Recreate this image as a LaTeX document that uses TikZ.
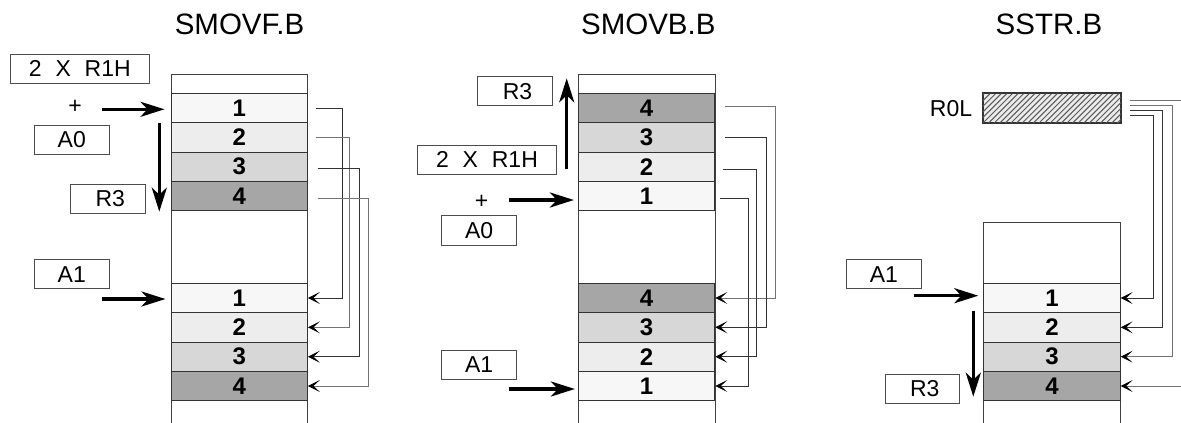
\documentclass[tikz,border=0pt]{standalone}
\usepackage{fontspec}
\setmainfont{Liberation Sans}
\usetikzlibrary{arrows.meta,calc}
\definecolor{cA}{HTML}{F7F7F7}
\definecolor{cB}{HTML}{EDEDED}
\definecolor{cC}{HTML}{D7D7D7}
\definecolor{cD}{HTML}{A6A6A6}
\begin{document}
\begin{tikzpicture}[x=1pt,y=-1pt,
  cell/.style={draw=black!80,line width=0.9pt,minimum width=136.5pt,minimum height=29.3pt,inner sep=0pt,font=\fontsize{24}{24}\selectfont\bfseries},
  lbl/.style={draw=black!70,line width=0.9pt,minimum height=29.3pt,inner sep=0pt,font=\fontsize{23}{23}\selectfont},
  ttl/.style={font=\fontsize{29.5}{30}\selectfont},
  colline/.style={draw=black!75,line width=1pt},
  conn/.style={draw=black!80,line width=0.8pt,-{Stealth[length=12pt,width=12pt,inset=6.5pt,color=black]}},
  big/.style={line width=3.5pt,-{Stealth[length=24pt,width=15pt,inset=7pt]}}]
\useasboundingbox (0,0) rectangle (1181,423);
\fill[white] (0,0) rectangle (1181,423);

% ---------------- Panel 1: SMOVF.B ----------------
\node[ttl] (t1) at (239.5,24) {SMOVF.B};
\draw[colline] (171.3,430) -- (171.3,74) -- (307,74) -- (307,430);
\node[cell,fill=cA] (a1) at (239.2,108) {1};
\node[cell,fill=cB] (a2) at (239.2,137.3) {2};
\node[cell,fill=cC] (a3) at (239.2,166.7) {3};
\node[cell,fill=cD] (a4) at (239.2,196) {4};
\node[cell,fill=cA] (b1) at (239.2,298) {1};
\node[cell,fill=cB] (b2) at (239.2,327.3) {2};
\node[cell,fill=cC] (b3) at (239.2,356.7) {3};
\node[cell,fill=cD] (b4) at (239.2,386) {4};
\node[lbl,minimum width=138.3pt] (p1r1h) at (79.8,68.6) {2\hspace{0.6em}X\hspace{0.6em}R1H};
\node[font=\fontsize{23}{23}\selectfont] (p1plus) at (75,107) {+};
\node[lbl,minimum width=74.3pt] (p1a0) at (71.8,139.6) {A0};
\node[lbl,minimum width=74.3pt] (p1r3) at (107.8,198.6) {\hspace{5pt}R3};
\node[lbl,minimum width=74.3pt] (p1a1) at (71.8,274.1) {A1};
\coordinate (p1s) at (102,109.3);
\coordinate (p1t) at (159.3,122.7);
\coordinate (p1u) at (159.3,211.7);
\coordinate (p1q) at (102,299);
\draw[big] (p1s) -- ([xshift=-6pt]a1.west |- p1s);
\draw[big] (p1t) -- (p1u);
\draw[big] (p1q) -- ([xshift=-5pt]b1.west |- p1q);
\draw[conn] ($(a1.east)+(8,0)$) -- ++(26.7,0) |- (b1.east);
\draw[conn,draw=black!55] ($(a2.east)+(8,0)$) -- ++(33.3,0) |- (b2.east);
\draw[conn] ($(a3.east)+(9.7,1.5)$) -- ++(41.6,0) |- (b3.east);
\draw[conn,draw=black!55] ($(a4.east)+(9.7,2.3)$) -- ++(51,0) |- (b4.east);

% ---------------- Panel 2: SMOVB.B ----------------
\node[ttl] (t2) at (648.3,24) {SMOVB.B};
\draw[colline] (578.3,430) -- (578.3,74) -- (715,74) -- (715,430);
\node[cell,fill=cD] (c4) at (646.6,108) {4};
\node[cell,fill=cC] (c3) at (646.6,137.3) {3};
\node[cell,fill=cB] (c2) at (646.6,166.7) {2};
\node[cell,fill=cA] (c1) at (646.6,196) {1};
\node[cell,fill=cD] (d4) at (646.6,298) {4};
\node[cell,fill=cC] (d3) at (646.6,327.3) {3};
\node[cell,fill=cB] (d2) at (646.6,356.7) {2};
\node[cell,fill=cA] (d1) at (646.6,386) {1};
\node[lbl,minimum width=74.6pt] (p2r3) at (515,91.2) {\hspace{5pt}R3};
\node[lbl,minimum width=139.4pt] (p2r1h) at (487,159.6) {2\hspace{0.6em}X\hspace{0.6em}R1H};
\node[font=\fontsize{23}{23}\selectfont] (p2plus) at (481.7,202) {+};
\node[lbl,minimum width=75pt] (p2a0) at (479.2,230.3) {A0};
\node[lbl,minimum width=75pt] (p2a1) at (479.2,364.6) {A1};
\coordinate (p2s) at (509.3,200);
\coordinate (p2t) at (566.7,169.3);
\coordinate (p2u) at (566.7,78.3);
\coordinate (p2q) at (509.3,389);
\draw[big] (p2s) -- ([xshift=-4pt]c1.west |- p2s);
\draw[big] (p2t) -- (p2u);
\draw[big] (p2q) -- ([xshift=-3pt]d1.west |- p2q);
\draw[conn,draw=black!55] ($(c4.east)+(10,-2)$) -- ++(50,0) |- (d4.east);
\draw[conn] ($(c3.east)+(10,0.4)$) -- ++(40.7,0) |- (d3.east);
\draw[conn] ($(c2.east)+(7.3,2.3)$) -- ++(33.7,0) |- (d2.east);
\draw[conn] ($(c1.east)+(5,2.3)$) -- ++(28.3,0) |- (d1.east);

% ---------------- Panel 3: SSTR.B ----------------
\node[ttl] (t3) at (1049,24) {SSTR.B};
\node[font=\fontsize{23}{23}\selectfont] (r0lt) at (951,109) {R0L};
\node[draw=black!80,line width=0.9pt,minimum width=137.4pt,minimum height=29.4pt,inner sep=0pt,fill=black!8] (r0l) at (1052,108) {};
\begin{scope}
\clip (r0l.south west) rectangle (r0l.north east);
\foreach \k in {-6,...,30} {
  \draw[black!65,line width=1pt] ($(r0l.south west)+(\k*5.6,0)$) -- ++(29.4,-29.4);
}
\end{scope}
\draw[black!80,line width=0.9pt] (r0l.south west) rectangle (r0l.north east);
\draw[colline] (983.3,430) -- (983.3,222.7) -- (1120.7,222.7) -- (1120.7,430);
\node[cell,fill=cA] (e1) at (1052,298) {1};
\node[cell,fill=cB] (e2) at (1052,327.3) {2};
\node[cell,fill=cC] (e3) at (1052,356.7) {3};
\node[cell,fill=cD] (e4) at (1052,386) {4};
\node[lbl,minimum width=74.3pt] (p3a1) at (883.9,274.1) {A1};
\node[lbl,minimum width=74.3pt] (p3r3) at (922.2,388.8) {\hspace{5pt}R3};
\coordinate (p3s) at (914,295.7);
\coordinate (p3t) at (973.3,310.7);
\coordinate (p3u) at (973.3,396.7);
\draw[big] (p3s) -- ([xshift=-5pt]e1.west |- p3s);
\draw[big] (p3t) -- (p3u);
\draw[conn] ($(r0l.east)+(8.6,7.7)$) -- (1153.3,115.7) |- (e1.east);
\draw[conn] ($(r0l.east)+(8.6,2.7)$) -- (1162.7,110.7) |- (e2.east);
\draw[conn,draw=black!55] ($(r0l.east)+(8.6,-2.3)$) -- (1172.3,105.7) |- (e3.east);
\draw[conn,draw=black!55] ($(r0l.east)+(8.6,-7.3)$) -- (1195,100.7) |- (e4.east);
\end{tikzpicture}
\end{document}
